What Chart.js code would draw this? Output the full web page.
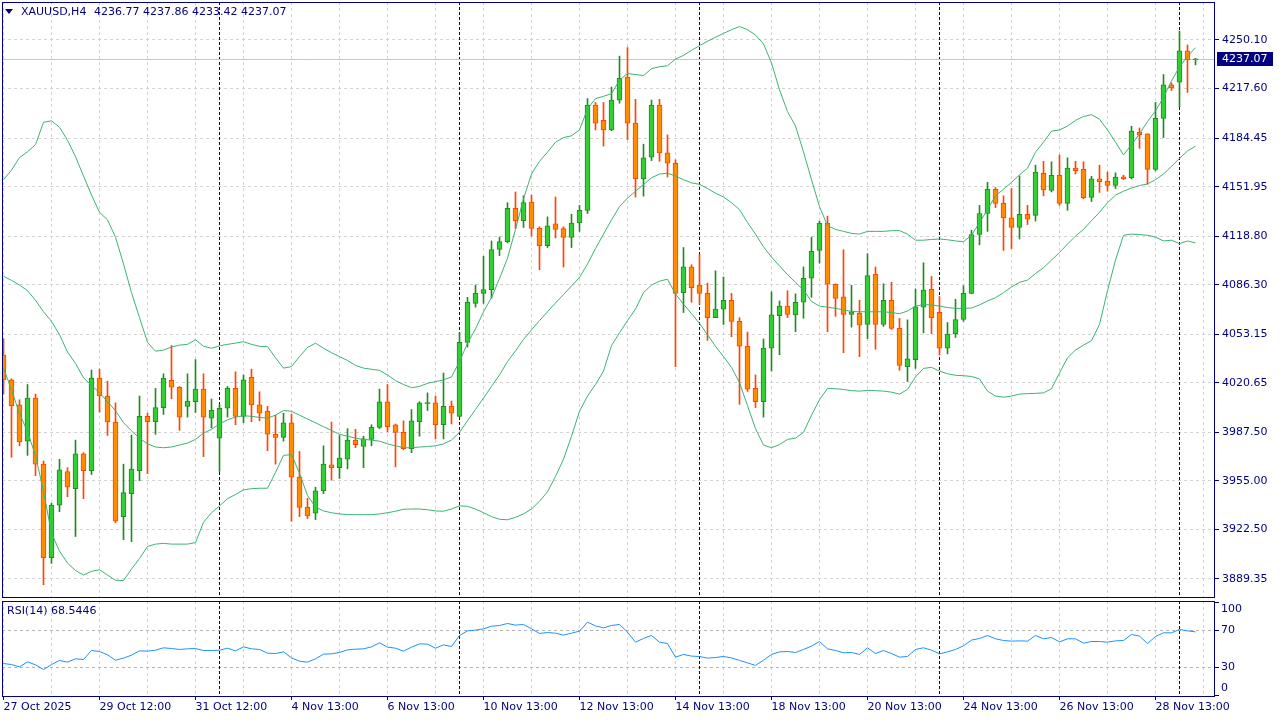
<!DOCTYPE html>
<html>
<head>
<meta charset="utf-8">
<title>XAUUSD,H4</title>
<script src="https://cdn.jsdelivr.net/npm/chart.js@4.4.1/dist/chart.umd.min.js"></script>
<style>
  html, body { margin: 0; padding: 0; background: #fff; }
  #wrap { position: relative; width: 1280px; height: 720px; overflow: hidden; background: #fff; }
  canvas { position: absolute; left: 0; }
  #main { top: 0; }
  #rsi { top: 600px; }
</style>
</head>
<body>
<div id="wrap">
  <canvas id="main" width="1280" height="600"></canvas>
  <canvas id="rsi" width="1280" height="120"></canvas>
</div>
<script>
// XAUUSD H4 candles, 27 Oct - 1 Dec 2025
const opens = [
  4039.2, 4022.6, 4005.9, 3981.6, 4010.5, 3966.2, 3903.7, 3938.8, 3961.3, 3949.8,
  3973.1, 3961.9, 4023.9, 4011.8, 3994.4, 3931.1, 3946.5, 3961.9, 3998.2, 3994.6,
  4004.1, 4022.3, 4017.7, 4004.9, 4008.0, 4016.4, 3997.0, 3983.6, 4003.6, 4016.9,
  3998.2, 4024.4, 4005.9, 4001.6, 3986.2, 3984.1, 3993.9, 3957.5, 3937.3, 3933.4,
  3948.3, 3965.7, 3963.9, 3969.5, 3982.3, 3978.0, 3982.8, 3990.8, 4008.0, 3992.6,
  3987.5, 3976.5, 3994.6, 4006.7, 4007.2, 3992.6, 4004.9, 3998.2, 4047.7, 4073.8,
  4080.5, 4083.0, 4109.9, 4115.1, 4137.4, 4129.2, 4141.7, 4124.0, 4112.5, 4127.1,
  4123.8, 4117.9, 4127.6, 4136.1, 4206.5, 4196.3, 4189.9, 4209.9, 4225.2, 4194.5,
  4157.1, 4171.7, 4206.5, 4174.5, 4167.6, 4081.0, 4098.2, 4086.1, 4080.5, 4064.3,
  4070.0, 4075.9, 4061.8, 4045.1, 4016.9, 4008.0, 4043.9, 4065.6, 4072.0, 4066.1,
  4074.6, 4090.7, 4109.2, 4127.6, 4086.6, 4078.2, 4066.4, 4067.4, 4059.7, 4093.3,
  4059.7, 4075.9, 4057.1, 4031.5, 4036.2, 4071.3, 4083.3, 4067.9, 4043.8, 4053.3,
  4063.0, 4080.5, 4119.9, 4134.0, 4150.2, 4140.7, 4131.0, 4124.6, 4133.5, 4132.7,
  4160.9, 4149.4, 4159.6, 4140.7, 4164.3, 4163.5, 4144.8, 4157.1, 4155.5, 4152.7,
  4158.6, 4157.9, 4188.3, 4187.3, 4163.5, 4197.6, 4220.1, 4221.9, 4242.9, 4236.77
];
const highs = [
  4050.2, 4023.3, 4009.3, 4019.5, 4013.1, 3968.3, 3940.1, 3969.5, 3963.9, 3982.3,
  3973.9, 4029.2, 4029.8, 4021.8, 4007.2, 3966.2, 3985.7, 4011.8, 4000.3, 4016.9,
  4026.7, 4045.6, 4018.2, 4026.7, 4036.2, 4026.7, 4009.8, 4006.2, 4018.2, 4028.0,
  4025.9, 4029.8, 4014.6, 4004.9, 3999.0, 4000.3, 3999.8, 3974.7, 3943.4, 3950.8,
  3978.5, 3994.4, 3985.4, 3990.0, 3989.5, 3984.9, 3992.6, 4016.4, 4019.5, 3993.1,
  3995.2, 4002.8, 4008.0, 4013.9, 4011.8, 4027.2, 4008.5, 4054.1, 4077.9, 4086.1,
  4105.3, 4115.6, 4118.2, 4141.2, 4148.4, 4145.8, 4146.3, 4125.1, 4131.7, 4145.0,
  4125.1, 4133.5, 4139.4, 4210.9, 4208.3, 4208.3, 4218.6, 4239.3, 4245.0, 4210.4,
  4180.4, 4209.9, 4210.4, 4186.6, 4169.9, 4111.2, 4099.7, 4106.6, 4087.4, 4095.6,
  4091.5, 4080.5, 4064.3, 4054.6, 4025.9, 4050.0, 4081.5, 4075.4, 4082.3, 4080.2,
  4098.2, 4118.2, 4128.9, 4132.2, 4086.9, 4109.7, 4085.9, 4075.9, 4107.1, 4098.2,
  4086.9, 4087.9, 4063.8, 4062.8, 4083.5, 4101.0, 4091.8, 4078.4, 4061.0, 4076.6,
  4085.6, 4122.8, 4139.4, 4154.8, 4151.4, 4145.8, 4150.7, 4159.1, 4139.4, 4166.3,
  4168.9, 4168.6, 4173.2, 4171.2, 4168.9, 4168.6, 4158.9, 4166.3, 4161.7, 4161.2,
  4159.6, 4192.4, 4191.2, 4187.3, 4208.3, 4227.0, 4221.4, 4256.0, 4246.8, 4237.86
];
const lows = [
  4013.1, 3970.8, 3978.5, 3972.1, 3958.5, 3885.5, 3899.8, 3934.4, 3944.4, 3917.8,
  3943.1, 3959.3, 4001.1, 3985.4, 3927.0, 3915.7, 3914.4, 3955.2, 3959.8, 3986.2,
  3999.5, 4010.0, 3988.8, 3997.7, 4000.8, 3971.3, 3990.5, 3961.3, 3997.7, 3992.6,
  3993.9, 3994.6, 3995.2, 3975.2, 3966.2, 3981.6, 3928.0, 3931.1, 3929.8, 3929.1,
  3946.5, 3955.5, 3956.7, 3963.1, 3977.2, 3963.9, 3978.5, 3990.0, 3988.0, 3964.4,
  3975.9, 3973.9, 3984.9, 4002.1, 3983.1, 3983.1, 3993.1, 3997.7, 4044.6, 4071.3,
  4073.8, 4077.2, 4105.8, 4114.3, 4123.8, 4124.6, 4118.9, 4096.4, 4111.2, 4117.6,
  4098.2, 4111.2, 4122.0, 4134.0, 4189.9, 4179.1, 4189.4, 4207.8, 4183.5, 4145.0,
  4145.6, 4169.4, 4168.9, 4158.4, 4031.5, 4067.7, 4074.6, 4073.3, 4049.0, 4064.3,
  4059.7, 4051.5, 4006.2, 4014.9, 4004.1, 3997.7, 4028.5, 4039.5, 4064.3, 4054.9,
  4063.8, 4077.9, 4100.7, 4054.9, 4065.1, 4040.8, 4057.9, 4038.2, 4050.2, 4043.1,
  4058.4, 4056.4, 4029.0, 4021.5, 4030.3, 4054.1, 4053.6, 4039.2, 4040.0, 4051.0,
  4061.8, 4080.2, 4113.0, 4122.0, 4137.9, 4109.2, 4110.5, 4116.9, 4126.6, 4128.9,
  4145.8, 4148.4, 4139.4, 4136.1, 4160.4, 4143.8, 4142.0, 4148.1, 4148.9, 4150.7,
  4156.6, 4157.1, 4177.6, 4153.5, 4162.5, 4184.8, 4216.3, 4205.3, 4215.0, 4233.42
];
const closes = [
  4022.6, 4005.4, 3981.1, 4010.5, 3966.2, 3903.7, 3938.8, 3962.4, 3950.8, 3973.1,
  3961.9, 4023.9, 4011.8, 3994.4, 3928.0, 3947.2, 3962.9, 3998.2, 3994.6, 4004.1,
  4023.9, 4017.7, 3997.7, 4008.5, 4016.4, 3997.7, 4002.3, 4003.6, 4016.9, 3998.2,
  4022.6, 4005.9, 4000.3, 3986.2, 3984.1, 3993.9, 3957.5, 3937.3, 3931.6, 3948.3,
  3966.2, 3963.9, 3970.3, 3982.3, 3979.3, 3983.1, 3990.8, 4008.0, 3991.3, 3987.5,
  3976.5, 3995.2, 4007.2, 4007.5, 3992.6, 4004.9, 4000.3, 4047.7, 4074.6, 4080.5,
  4083.0, 4109.9, 4115.1, 4137.4, 4129.2, 4141.2, 4124.0, 4112.5, 4125.8, 4123.3,
  4117.9, 4127.6, 4136.1, 4206.5, 4194.5, 4189.9, 4209.9, 4224.5, 4194.5, 4157.3,
  4171.2, 4206.5, 4174.5, 4167.6, 4080.5, 4098.2, 4084.3, 4080.5, 4064.3, 4070.0,
  4075.9, 4061.8, 4045.1, 4016.4, 4008.0, 4043.9, 4066.1, 4072.0, 4066.4, 4074.6,
  4090.5, 4108.7, 4127.6, 4086.6, 4077.2, 4066.4, 4068.2, 4059.2, 4092.5, 4059.7,
  4075.9, 4057.1, 4032.3, 4036.7, 4071.5, 4082.8, 4064.3, 4043.8, 4053.3, 4063.0,
  4080.5, 4119.9, 4134.0, 4150.2, 4140.7, 4131.0, 4124.6, 4133.5, 4130.2, 4161.7,
  4149.7, 4159.6, 4140.7, 4164.3, 4162.7, 4144.5, 4157.1, 4155.3, 4152.7, 4158.4,
  4157.1, 4189.1, 4186.8, 4163.5, 4197.6, 4220.1, 4218.1, 4242.9, 4236.8, 4237.07
];

// Bollinger bands as drawn on the chart
const bbUpper = [
  4156.6, 4163.0, 4171.4, 4175.3, 4180.1, 4195.0, 4196.0, 4191.7, 4183.0, 4172.0,
  4159.1, 4146.3, 4134.8, 4129.7, 4118.1, 4100.2, 4081.0, 4064.3, 4047.7, 4041.8,
  4042.6, 4044.6, 4045.9, 4046.4, 4049.5, 4045.1, 4043.8, 4045.4, 4046.4, 4047.2,
  4048.2, 4046.4, 4045.1, 4044.9, 4037.4, 4030.5, 4031.5, 4038.2, 4044.3, 4047.2,
  4043.8, 4040.8, 4038.2, 4035.6, 4032.3, 4030.5, 4029.7, 4029.0, 4025.9, 4022.1,
  4019.5, 4017.4, 4018.2, 4020.3, 4021.5, 4022.6, 4024.6, 4034.9, 4047.2, 4056.7,
  4068.2, 4077.7, 4090.5, 4104.1, 4123.3, 4143.8, 4160.4, 4168.9, 4175.0, 4181.7,
  4184.8, 4186.0, 4189.9, 4204.0, 4210.9, 4212.4, 4214.2, 4223.2, 4227.6, 4227.0,
  4226.3, 4230.9, 4232.2, 4232.9, 4237.3, 4239.8, 4243.2, 4246.3, 4249.3, 4251.9,
  4254.5, 4257.0, 4259.1, 4257.0, 4253.4, 4247.5, 4234.7, 4216.8, 4202.2, 4192.5,
  4175.2, 4156.6, 4138.6, 4125.8, 4123.3, 4122.0, 4120.7, 4120.2, 4122.0, 4122.0,
  4122.0, 4122.5, 4122.5, 4120.2, 4116.1, 4116.1, 4116.6, 4116.9, 4116.4, 4115.6,
  4115.1, 4119.4, 4127.9, 4136.6, 4145.8, 4150.2, 4154.8, 4159.9, 4164.3, 4175.0,
  4181.7, 4189.1, 4189.9, 4192.5, 4196.3, 4198.9, 4200.1, 4197.1, 4189.9, 4181.7,
  4173.2, 4180.1, 4187.3, 4195.5, 4202.7, 4211.7, 4222.7, 4232.2, 4239.1, 4245.0
];
const bbMiddle = [
  4092.0, 4089.2, 4086.1, 4082.3, 4075.9, 4068.2, 4061.8, 4052.8, 4041.3, 4033.6,
  4024.0, 4019.0, 4014.0, 4008.0, 4002.0, 3994.0, 3988.5, 3983.6, 3979.8, 3977.7,
  3977.2, 3977.7, 3979.0, 3980.3, 3982.8, 3987.0, 3989.5, 3993.1, 3995.9, 3997.7,
  3998.7, 3998.2, 3997.5, 3997.0, 3999.0, 4002.1, 4001.6, 3999.0, 3996.4, 3993.9,
  3991.3, 3988.8, 3986.2, 3984.9, 3983.6, 3982.8, 3982.3, 3981.6, 3979.8, 3978.5,
  3977.2, 3977.2, 3977.7, 3978.0, 3978.5, 3979.8, 3982.3, 3987.5, 3995.2, 4002.8,
  4010.5, 4018.2, 4025.9, 4034.9, 4042.0, 4049.7, 4056.1, 4062.3, 4068.2, 4074.1,
  4079.7, 4085.4, 4091.2, 4100.2, 4110.5, 4120.2, 4129.7, 4138.6, 4144.3, 4148.9,
  4153.3, 4157.9, 4160.4, 4160.9, 4159.1, 4156.6, 4154.5, 4153.5, 4150.7, 4147.6,
  4145.0, 4141.2, 4136.6, 4127.9, 4120.2, 4111.7, 4104.8, 4098.9, 4093.0, 4087.9,
  4082.8, 4075.1, 4072.0, 4071.3, 4070.5, 4069.5, 4068.4, 4068.2, 4068.2, 4068.2,
  4068.2, 4067.7, 4066.9, 4068.7, 4072.0, 4073.0, 4072.8, 4072.0, 4071.0, 4070.5,
  4070.5, 4070.7, 4072.8, 4075.4, 4077.7, 4081.0, 4084.8, 4087.9, 4089.4, 4093.8,
  4097.7, 4102.8, 4107.9, 4113.5, 4118.9, 4123.3, 4129.2, 4134.8, 4141.2, 4146.3,
  4148.9, 4151.0, 4152.7, 4153.8, 4156.6, 4160.4, 4165.5, 4170.9, 4175.8, 4179.1
];
const bbLower = [
  4030.5, 4016.0, 4000.0, 3988.0, 3972.0, 3948.0, 3920.0, 3908.0, 3900.0, 3895.0,
  3892.0, 3894.5, 3895.5, 3892.0, 3888.5, 3888.3, 3896.0, 3903.0, 3911.1, 3912.7,
  3913.2, 3912.7, 3912.7, 3912.7, 3913.7, 3927.3, 3933.7, 3938.3, 3943.1, 3945.9,
  3949.0, 3949.8, 3950.1, 3950.1, 3960.6, 3972.1, 3972.6, 3960.1, 3945.2, 3937.5,
  3934.9, 3933.7, 3932.9, 3932.4, 3932.4, 3932.4, 3932.4, 3932.9, 3933.7, 3934.7,
  3936.0, 3936.2, 3936.2, 3935.7, 3934.9, 3934.7, 3936.2, 3938.3, 3938.0, 3936.2,
  3933.7, 3931.1, 3929.3, 3929.0, 3930.6, 3932.9, 3936.2, 3941.4, 3947.7, 3958.0,
  3969.5, 3984.9, 4001.6, 4011.8, 4019.5, 4028.5, 4045.6, 4054.1, 4062.3, 4070.0,
  4081.0, 4086.1, 4088.7, 4090.0, 4080.2, 4073.3, 4066.9, 4060.5, 4052.8, 4045.1,
  4038.2, 4031.0, 4020.8, 4005.4, 3990.0, 3979.0, 3977.2, 3979.3, 3982.8, 3983.6,
  3987.5, 3999.0, 4009.3, 4016.9, 4016.7, 4016.2, 4015.4, 4015.1, 4015.6, 4015.4,
  4015.1, 4014.4, 4013.1, 4016.2, 4024.6, 4030.3, 4031.0, 4028.5, 4026.7, 4025.7,
  4025.4, 4024.9, 4023.3, 4015.1, 4011.8, 4011.0, 4011.8, 4013.1, 4013.4, 4013.6,
  4013.9, 4016.7, 4027.2, 4037.4, 4042.6, 4045.9, 4048.9, 4059.7, 4082.3, 4102.8,
  4119.4, 4120.2, 4119.9, 4119.4, 4118.1, 4115.6, 4116.1, 4113.8, 4115.6, 4114.3
];

// RSI(14)
const rsi = [
  34.3, 33.2, 30.7, 36.1, 32.9, 27.8, 33.2, 37.6, 35.8, 39.4,
  38.6, 48.4, 47.3, 43.7, 37.9, 40.1, 43.3, 48.0, 47.7, 48.7,
  51.3, 50.5, 49.5, 50.2, 50.5, 48.4, 48.4, 48.7, 50.9, 48.0,
  52.3, 50.2, 49.5, 45.5, 45.1, 46.9, 40.4, 36.8, 35.8, 39.4,
  44.4, 44.8, 46.2, 49.1, 49.8, 50.2, 52.3, 56.7, 52.0, 50.9,
  47.7, 52.0, 55.6, 55.2, 50.9, 54.5, 52.7, 64.6, 69.6, 70.4,
  71.8, 74.7, 75.4, 77.6, 75.8, 76.5, 71.8, 66.8, 67.8, 67.1,
  65.0, 67.1, 69.3, 79.0, 75.0, 72.9, 75.4, 76.5, 68.2, 57.4,
  61.4, 64.6, 57.4, 55.9, 41.2, 44.1, 42.3, 41.9, 40.1, 40.8,
  41.9, 40.4, 37.6, 35.0, 32.2, 37.9, 44.1, 46.9, 47.3, 46.2,
  49.5, 53.1, 58.1, 50.2, 48.4, 45.9, 46.2, 44.1, 51.3, 45.1,
  48.4, 45.1, 41.2, 41.9, 49.5, 51.3, 48.7, 44.8, 46.9, 49.5,
  53.4, 59.6, 61.4, 64.6, 61.0, 59.2, 58.5, 58.8, 58.5, 64.6,
  61.0, 62.4, 57.7, 61.0, 61.0, 56.3, 58.1, 58.1, 57.4, 58.8,
  59.2, 65.7, 63.9, 55.9, 63.5, 67.5, 67.5, 71.1, 69.6, 68.5446
];

// axis labels
const symbol = 'XAUUSD,H4';
const priceTicks = [3889.35, 3922.50, 3955.00, 3987.50, 4020.65, 4053.15, 4086.30, 4118.80, 4151.95, 4184.45, 4217.60, 4250.10];
const timeLabels = ['27 Oct 2025', '29 Oct 12:00', '31 Oct 12:00', '4 Nov 13:00', '6 Nov 13:00', '10 Nov 13:00',
  '12 Nov 13:00', '14 Nov 13:00', '18 Nov 13:00', '20 Nov 13:00', '24 Nov 13:00', '26 Nov 13:00', '28 Nov 13:00'];
const weekStarts = [27, 57, 87, 117, 147];   // bar index of each Monday (period separators)
const rsiTicks = [0, 30, 70, 100];
const rsiLevels = [30, 70];

const NAVY = '#000080';
const GRID = '#d3d3d3';
const UP = '#32cd32', UP_EDGE = '#228b22';
const DN = '#ff8c00', DN_EDGE = '#ff4500';
const BAND = '#3cb371';
const FONT = '11px "DejaVu Sans"';

Chart.defaults.font.family = '"DejaVu Sans"';
Chart.defaults.font.size = 11;
Chart.defaults.color = NAVY;
Chart.defaults.animation = false;

const bars = opens.map((_, i) => i);
const last = bars.length - 1;
const isUp = bars.map(i => closes[i] >= opens[i]);
const gridBars = [];
for (let k = 0; k <= 150; k += 6) gridBars.push(k);

// one bar every 8px; bar 0 sits 1.5px inside the frame
const xRange = { min: -0.1875, max: 151.4375 };

function xScale(showLabels) {
  return {
    type: 'linear', min: xRange.min, max: xRange.max, offset: false,
    afterBuildTicks: s => { s.ticks = gridBars.map(v => ({ value: v })); },
    afterFit: s => { s.height = showLabels ? 23 : 0; s.paddingLeft = 0; s.paddingRight = 0; },
    grid: {
      offset: false, color: GRID, drawTicks: showLabels, tickLength: 3,
      tickColor: c => (c.tick && c.tick.value % 12 === 0) ? NAVY : 'rgba(0,0,0,0)'
    },
    border: { display: false, dash: [3, 3] },
    ticks: {
      display: showLabels, autoSkip: false, maxRotation: 0, minRotation: 0,
      align: 'start', padding: 1, color: NAVY,
      callback: v => v % 12 === 0 ? (timeLabels[v / 12] || '') : ''
    }
  };
}

// frame + weekly separators, shared by both panels
const panelDeco = {
  id: 'panelDeco',
  beforeDatasetsDraw(chart) {
    const { ctx, chartArea: a, scales: { x } } = chart;
    ctx.save();
    ctx.strokeStyle = NAVY;
    ctx.lineWidth = 1;
    ctx.setLineDash([3, 2]);
    weekStarts.forEach(k => {
      const px = Math.floor(x.getPixelForValue(k)) + 0.5;
      ctx.beginPath();
      ctx.moveTo(px, a.top);
      ctx.lineTo(px, a.bottom);
      ctx.stroke();
    });
    ctx.restore();
  },
  afterDraw(chart) {
    const { ctx, chartArea: a } = chart;
    ctx.save();
    ctx.strokeStyle = NAVY;
    ctx.lineWidth = 1;
    ctx.strokeRect(a.left + 0.5, a.top + 0.5, a.right - a.left - 1, a.bottom - a.top - 1);
    ctx.restore();
  }
};

// bid line, header and price tag on the main panel
const mainDeco = {
  id: 'mainDeco',
  beforeDatasetsDraw(chart) {
    const { ctx, chartArea: a, scales: { y } } = chart;
    const py = Math.floor(y.getPixelForValue(closes[last])) + 0.5;
    ctx.save();
    ctx.strokeStyle = '#c8c8c8';
    ctx.lineWidth = 1;
    ctx.beginPath();
    ctx.moveTo(a.left, py);
    ctx.lineTo(a.right, py);
    ctx.stroke();
    ctx.restore();
  },
  afterDraw(chart) {
    const { ctx, chartArea: a, scales: { y } } = chart;
    ctx.save();
    ctx.font = FONT;
    ctx.textBaseline = 'middle';
    ctx.fillStyle = NAVY;
    ctx.beginPath();
    ctx.moveTo(5, 9); ctx.lineTo(13, 9); ctx.lineTo(9, 14);
    ctx.closePath();
    ctx.fill();
    ctx.fillText(symbol, 21, 12);
    const ohlc = [opens[last], highs[last], lows[last], closes[last]].map(v => v.toFixed(2)).join(' ');
    ctx.fillText(ohlc, 94, 12);
    const py = Math.round(y.getPixelForValue(closes[last]));
    ctx.fillRect(a.right + 2, py - 7, 56, 14);
    ctx.fillStyle = '#ffffff';
    ctx.fillText(closes[last].toFixed(2), a.right + 7, py);
    ctx.restore();
  }
};

new Chart(document.getElementById('main'), {
  type: 'bar',
  data: {
    datasets: [
      { type: 'line', data: bars.map(i => ({ x: i, y: bbUpper[i] })), borderColor: BAND, borderWidth: 1, pointRadius: 0, tension: 0, order: 0 },
      { type: 'line', data: bars.map(i => ({ x: i, y: bbMiddle[i] })), borderColor: BAND, borderWidth: 1, pointRadius: 0, tension: 0, order: 0 },
      { type: 'line', data: bars.map(i => ({ x: i, y: bbLower[i] })), borderColor: BAND, borderWidth: 1, pointRadius: 0, tension: 0, order: 0 },
      {
        // candle bodies
        type: 'bar',
        data: bars.map(i => ({ x: i, y: [opens[i], closes[i]] })),
        backgroundColor: bars.map(i => isUp[i] ? UP : DN),
        borderColor: bars.map(i => isUp[i] ? UP_EDGE : DN_EDGE),
        borderWidth: 1, borderSkipped: false,
        grouped: false, barPercentage: 1, categoryPercentage: 1, maxBarThickness: 5, minBarLength: 1,
        order: 1
      },
      {
        // wicks
        type: 'bar',
        data: bars.map(i => ({ x: i, y: [lows[i], highs[i]] })),
        backgroundColor: bars.map(i => isUp[i] ? UP_EDGE : DN_EDGE),
        borderWidth: 0,
        grouped: false, barPercentage: 1, categoryPercentage: 1, maxBarThickness: 1, minBarLength: 1,
        order: 2
      }
    ]
  },
  options: {
    responsive: false,
    devicePixelRatio: 1,
    layout: { padding: { left: 2, top: 2, right: 0, bottom: 2 } },
    plugins: { legend: { display: false }, tooltip: { enabled: false } },
    scales: {
      x: xScale(false),
      y: {
        position: 'right', min: 3876.63, max: 4275.53, beginAtZero: false,
        afterBuildTicks: s => { s.ticks = priceTicks.map(v => ({ value: v })); },
        afterFit: s => { s.width = 65; s.paddingTop = 0; s.paddingBottom = 0; },
        grid: { color: GRID, tickColor: NAVY, tickLength: 4, tickBorderDash: [] },
        border: { display: false, dash: [3, 3] },
        ticks: { padding: 3, color: NAVY, callback: v => v.toFixed(2) }
      }
    }
  },
  plugins: [panelDeco, mainDeco]
});

// RSI scale labels, kept inside the window like the terminal does
const rsiDeco = {
  id: 'rsiDeco',
  afterDraw(chart) {
    const { ctx, chartArea: a, scales: { y } } = chart;
    ctx.save();
    ctx.font = FONT;
    ctx.textBaseline = 'middle';
    ctx.fillStyle = NAVY;
    ctx.fillText('RSI(14) ' + rsi[last].toFixed(4), 7, 11);
    rsiTicks.forEach(v => {
      const py = Math.min(Math.max(y.getPixelForValue(v), a.top + 8), a.bottom - 9);
      ctx.fillText(String(v), a.right + 6, py);
    });
    ctx.restore();
  }
};

new Chart(document.getElementById('rsi'), {
  type: 'line',
  data: {
    datasets: [{
      data: bars.map(i => ({ x: i, y: rsi[i] })),
      borderColor: '#1e90ff', borderWidth: 1, pointRadius: 0, tension: 0
    }]
  },
  options: {
    responsive: false,
    devicePixelRatio: 1,
    layout: { padding: { left: 2, top: 1, right: 0, bottom: 0 } },
    plugins: { legend: { display: false }, tooltip: { enabled: false } },
    scales: {
      x: xScale(true),
      y: {
        position: 'right', min: -1.9, max: 101.9,
        afterBuildTicks: s => { s.ticks = rsiTicks.map(v => ({ value: v })); },
        afterFit: s => { s.width = 65; s.paddingTop = 0; s.paddingBottom = 0; },
        grid: {
          color: c => (c.tick && rsiLevels.includes(c.tick.value)) ? '#b4b4b4' : 'rgba(0,0,0,0)',
          tickColor: NAVY, tickLength: 4, tickBorderDash: []
        },
        border: { display: false, dash: [3, 3] },
        ticks: { display: false }
      }
    }
  },
  plugins: [panelDeco, rsiDeco]
});
</script>
</body>
</html>
